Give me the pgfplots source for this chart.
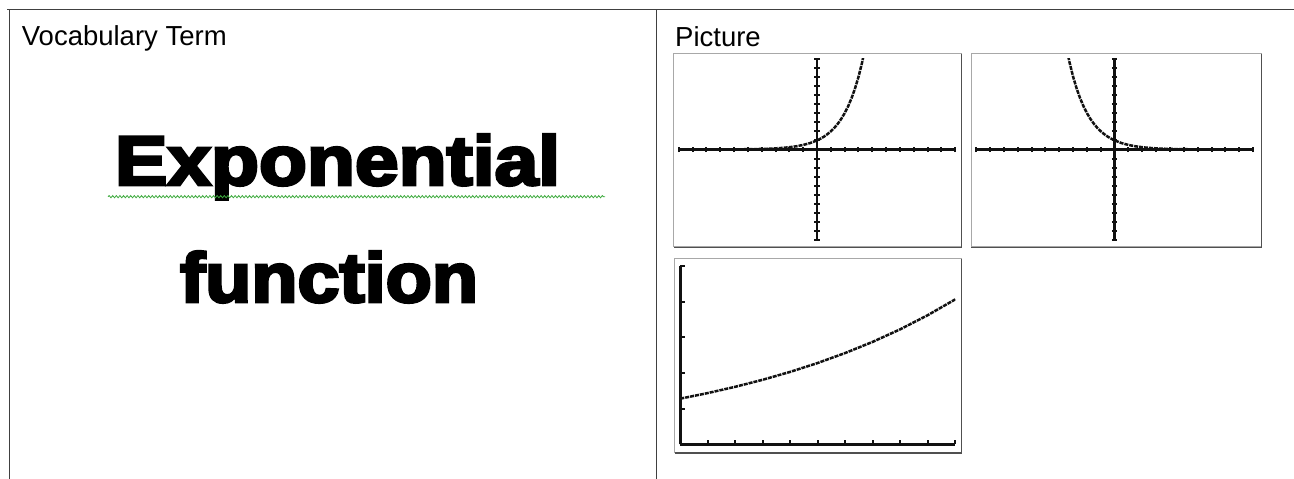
\documentclass[border=0pt]{standalone}
\usepackage{graphicx}
\usepackage{pgfplots}
\pgfplotsset{compat=1.18}
\usepackage{fontspec}
\setmainfont{Liberation Sans}
\newfontfamily\blackfont[BoldFeatures={FakeBold=4}]{Liberation Sans}
\usetikzlibrary{decorations.pathmorphing}
\definecolor{tbl}{HTML}{404040}
\definecolor{boxlt}{HTML}{A8A8A8}
\definecolor{boxdk}{HTML}{505050}
\definecolor{spell}{HTML}{3DAA3D}
\definecolor{calc}{HTML}{111111}
\pgfplotsset{
  calcaxis/.style={
    scale only axis, enlargelimits=false,
    xticklabels={}, yticklabels={},
    every inner x axis line/.append style={-},
    every inner y axis line/.append style={-},
    every outer x axis line/.append style={-},
    every outer y axis line/.append style={-},
    x axis line style={-, line width=2.6pt, calc},
    y axis line style={-, line width=2.6pt, calc},
    every tick/.append style={line width=2pt, calc},
    clip=true,
  },
  curve/.style={calc, line width=2.5pt, no markers, dash pattern=on 4pt off 1pt},
}
\begin{document}
\begin{tikzpicture}
\path[use as bounding box] (0pt,0pt) rectangle (1294pt,479pt);
% table rules
\draw[tbl, line width=1.2pt] (7pt,469.7pt) -- (1294pt,469.7pt);
\draw[tbl, line width=1.2pt] (9.3pt,469.7pt) -- (9.3pt,0pt);
\draw[tbl, line width=1.2pt] (656.7pt,469.7pt) -- (656.7pt,0pt);
% headings
\node[anchor=base west, inner sep=0pt, font=\fontsize{27.5}{32}\selectfont] at (21.7pt,433pt) {Vocabulary Term};
\node[anchor=base west, inner sep=0pt, font=\fontsize{27.5}{32}\selectfont] at (675pt,432.3pt) {Picture};
% term
\node[anchor=base, inner sep=0pt] at (337.5pt,294pt) {\resizebox{445pt}{\height}{\fontsize{70}{80}\blackfont\bfseries Exponential}};
\node[anchor=base, inner sep=0pt] at (329pt,177pt) {\resizebox{298pt}{\height}{\fontsize{70}{80}\blackfont\bfseries function}};
\draw[spell, line width=0.8pt, decorate, decoration={snake, amplitude=1.1pt, segment length=3.6pt}] (108pt,282.3pt) -- (605pt,282.3pt);
% picture frames
\draw[boxlt, line width=1pt] (673.7pt,232pt) rectangle (961pt,425.3pt);
\draw[boxdk, line width=1.5pt] (961.5pt,425.3pt) -- (961.5pt,231.5pt) -- (673.7pt,231.5pt);
\draw[boxlt, line width=1pt] (971pt,232pt) rectangle (1261pt,425.3pt);
\draw[boxdk, line width=1.5pt] (1261.5pt,425.3pt) -- (1261.5pt,231.5pt) -- (971pt,231.5pt);
\draw[boxlt, line width=1pt] (674.7pt,26.3pt) rectangle (961pt,220.3pt);
\draw[boxdk, line width=1.5pt] (961.5pt,220.3pt) -- (961.5pt,25.8pt) -- (674.7pt,25.8pt);
% graph 1: y = 2^x
\begin{axis}[axis lines=middle, calcaxis, at={(678.7pt,238.7pt)}, anchor=south west,
  width=276.6pt, height=181.6pt,
  xmin=-10, xmax=10, ymin=-10, ymax=10,
  tick align=center, major tick length=5.5pt,
  xtick={-10,...,10}, ytick={-10,...,10}]
\addplot[curve] coordinates {
(-10,0.001) (-8,0.0039) (-6,0.0156) (-5,0.03125) (-4,0.0625) (-3.5,0.088)
(-3,0.125) (-2.5,0.177) (-2,0.25) (-1.5,0.354) (-1,0.5) (-0.5,0.707)
(0,1) (0.25,1.189) (0.5,1.414) (0.75,1.682) (1,2) (1.25,2.378) (1.5,2.828)
(1.75,3.364) (2,4) (2.25,4.757) (2.5,5.657) (2.75,6.727) (3,8) (3.25,9.514) (3.45,10.93)};
\end{axis}
% graph 2: y = (1/2)^x
\begin{axis}[axis lines=middle, calcaxis, at={(976.3pt,238.7pt)}, anchor=south west,
  width=276.7pt, height=181.6pt,
  xmin=-10, xmax=10, ymin=-10, ymax=10,
  tick align=center, major tick length=5.5pt,
  xtick={-10,...,10}, ytick={-10,...,10}]
\addplot[curve] coordinates {
(10,0.001) (8,0.0039) (6,0.0156) (5,0.03125) (4,0.0625) (3.5,0.088)
(3,0.125) (2.5,0.177) (2,0.25) (1.5,0.354) (1,0.5) (0.5,0.707)
(0,1) (-0.25,1.189) (-0.5,1.414) (-0.75,1.682) (-1,2) (-1.25,2.378) (-1.5,2.828)
(-1.75,3.364) (-2,4) (-2.25,4.757) (-2.5,5.657) (-2.75,6.727) (-3,8) (-3.25,9.514) (-3.45,10.93)};
\end{axis}
% graph 3: growth
\begin{axis}[axis lines=left, calcaxis, at={(680.3pt,34.7pt)}, anchor=south west,
  width=275pt, height=178.3pt,
  xmin=0, xmax=10, ymin=0, ymax=5,
  tick align=inside, major tick length=4.5pt,
  xtick={0,...,10}, ytick={0,...,5}]
\addplot[curve] coordinates {
(0,1.28) (1,1.437) (2,1.613) (3,1.810) (4,2.032) (5,2.281)
(6,2.561) (7,2.874) (8,3.226) (9,3.622) (10,4.065)};
\end{axis}
\end{tikzpicture}
\end{document}
